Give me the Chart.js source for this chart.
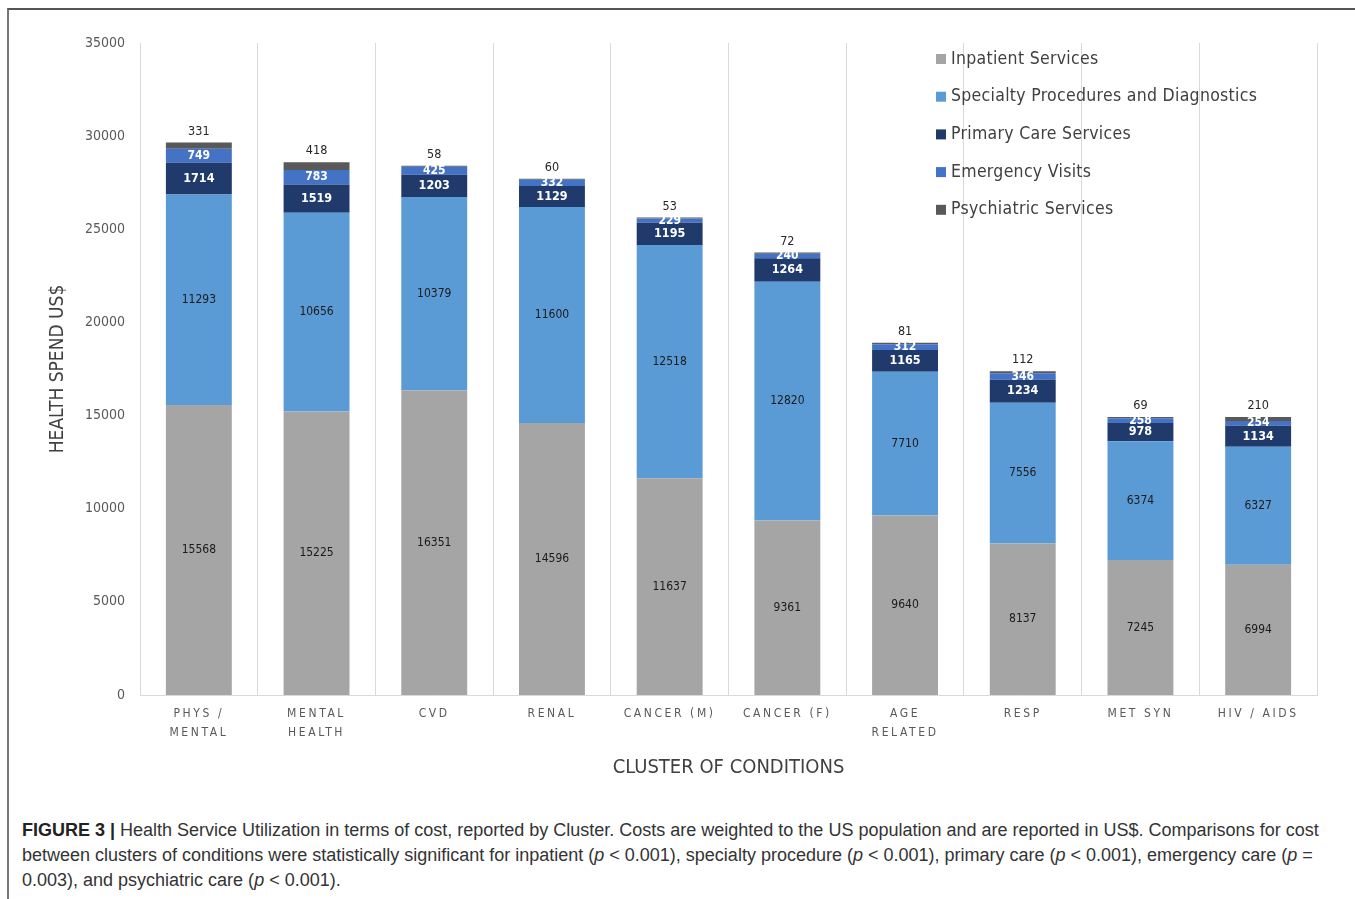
<!DOCTYPE html>
<html>
<head>
<meta charset="utf-8">
<script src="https://cdn.jsdelivr.net/npm/chart.js@4"></script>
<style>
  body { margin: 0; background: #fff; width: 1355px; height: 899px; overflow: hidden; position: relative; }
  #frame { position: absolute; left: 7px; top: 8px; width: 1348px; height: 891px; border-top: 2px solid #555; border-left: 2px solid #777; box-sizing: border-box; }
  #wrap { position: absolute; left: 9px; top: 10px; width: 1346px; height: 775px; }
  #caption { position: absolute; left: 22px; top: 818px; width: 1318px; font-family: "Liberation Sans", Arial, sans-serif; font-size: 18px; line-height: 25px; color: #333; }
  #caption b { color: #222; }
</style>
</head>
<body>
<div id="frame"></div>
<div id="wrap"><canvas id="healthChart"></canvas></div>
<div id="caption"><b>FIGURE 3 |</b> Health Service Utilization in terms of cost, reported by Cluster. Costs are weighted to the US population and are reported in US$. Comparisons for cost between clusters of conditions were statistically significant for inpatient (<i>p</i> &lt; 0.001), specialty procedure (<i>p</i> &lt; 0.001), primary care (<i>p</i> &lt; 0.001), emergency care (<i>p</i> = 0.003), and psychiatric care (<i>p</i> &lt; 0.001).</div>
<script>
const clusters = [
    ['PHYS /', 'MENTAL'], ['MENTAL', 'HEALTH'], 'CVD', 'RENAL', 'CANCER (M)',
    'CANCER (F)', ['AGE', 'RELATED'], 'RESP', 'MET SYN', 'HIV / AIDS'
];
const inpatient = [15568, 15225, 16351, 14596, 11637, 9361, 9640, 8137, 7245, 6994];
const specialty = [11293, 10656, 10379, 11600, 12518, 12820, 7710, 7556, 6374, 6327];
const primaryCare = [1714, 1519, 1203, 1129, 1195, 1264, 1165, 1234, 978, 1134];
const emergency = [749, 783, 425, 332, 229, 240, 312, 346, 258, 254];
const psychiatric = [331, 418, 58, 60, 53, 72, 81, 112, 69, 210];
const yTicks = [0, 5000, 10000, 15000, 20000, 25000, 30000, 35000];

// label style per dataset: where and how the value is written
const labelStyles = [
    { color: '#1a1a1a', font: '12px "DejaVu Sans Condensed", sans-serif', inside: true },
    { color: '#1a1a1a', font: '12px "DejaVu Sans Condensed", sans-serif', inside: true },
    { color: '#ffffff', font: 'bold 12.5px "DejaVu Sans Condensed", sans-serif', inside: true },
    { color: '#ffffff', font: 'bold 12px "DejaVu Sans Condensed", sans-serif', inside: true },
    { color: '#262626', font: '12.5px "DejaVu Sans Condensed", sans-serif', inside: false }
];

const valueLabels = {
    id: 'valueLabels',
    afterDatasetsDraw(chart) {
        const ctx = chart.ctx;
        chart.data.datasets.forEach((ds, i) => {
            const meta = chart.getDatasetMeta(i);
            const st = labelStyles[i];
            ctx.save();
            ctx.font = st.font;
            ctx.fillStyle = st.color;
            ctx.textAlign = 'center';
            ctx.textBaseline = 'middle';
            meta.data.forEach((bar, j) => {
                const p = bar.getProps(['x', 'y', 'base'], true);
                const y = st.inside ? (p.y + p.base) / 2 : p.y - 11;
                ctx.fillText(String(ds.data[j]), p.x, y);
            });
            ctx.restore();
        });
    }
};

const innerLegend = {
    id: 'innerLegend',
    afterDraw(chart) {
        const ctx = chart.ctx;
        const left = chart.chartArea.left + 796;
        const top = chart.chartArea.top + 16;
        ctx.save();
        ctx.font = '17.5px "DejaVu Sans Condensed", sans-serif';
        ctx.letterSpacing = '0.3px';
        ctx.textBaseline = 'middle';
        ctx.textAlign = 'left';
        chart.data.datasets.forEach((ds, i) => {
            const y = top + i * 37.7;
            ctx.fillStyle = ds.backgroundColor;
            ctx.fillRect(left, y - 5, 10, 10);
            ctx.fillStyle = '#404040';
            ctx.fillText(ds.label, left + 15, y);
        });
        ctx.restore();
    }
};

// spaced-out lettering on the category axis only
const spacedTicks = {
    id: 'spacedTicks',
    beforeDraw(chart) {
        const xs = chart.scales.x;
        if (xs && !xs._spaced) {
            const orig = xs.drawLabels;
            xs.drawLabels = function (area) {
                this.ctx.save();
                this.ctx.letterSpacing = '2.6px';
                orig.call(this, area);
                this.ctx.restore();
            };
            xs._spaced = true;
        }
    }
};

const datasets = [
    { label: 'Inpatient Services', data: inpatient, backgroundColor: '#a5a5a5' },
    { label: 'Specialty Procedures and Diagnostics', data: specialty, backgroundColor: '#5b9bd5' },
    { label: 'Primary Care Services', data: primaryCare, backgroundColor: '#1f3a6b' },
    { label: 'Emergency Visits', data: emergency, backgroundColor: '#4472c4' },
    { label: 'Psychiatric Services', data: psychiatric, backgroundColor: '#595959' }
].map(d => ({ ...d, barPercentage: 0.56, categoryPercentage: 1, borderWidth: 0 }));

const ctx = document.getElementById('healthChart').getContext('2d');
new Chart(ctx, {
    type: 'bar',
    data: { labels: clusters, datasets },
    options: {
        responsive: true,
        maintainAspectRatio: false,
        animation: false,
        layout: { padding: { top: 33, right: 38, left: 0, bottom: 0 } },
        plugins: { legend: { display: false }, tooltip: { enabled: false } },
        scales: {
            x: {
                stacked: true,
                grid: { color: '#d9d9d9', lineWidth: 1, drawTicks: false, offset: true },
                border: { display: true, color: '#d9d9d9' },
                ticks: {
                    color: '#595959',
                    font: { family: '"DejaVu Sans Condensed", sans-serif', size: 12, lineHeight: 1.6 },
                    padding: 9,
                    maxRotation: 0,
                    autoSkip: false
                },
                title: {
                    display: true,
                    text: 'CLUSTER OF CONDITIONS',
                    color: '#404040',
                    font: { family: '"DejaVu Sans Condensed", sans-serif', size: 20 },
                    padding: { top: 8, bottom: 5 }
                },
                afterFit(scale) { scale.height = 90; }
            },
            y: {
                stacked: true,
                min: 0,
                max: 35000,
                afterBuildTicks(scale) { scale.ticks = yTicks.map(v => ({ value: v })); },
                grid: { display: false, drawTicks: false },
                border: { display: false },
                ticks: {
                    color: '#595959',
                    font: { family: '"DejaVu Sans Condensed", sans-serif', size: 14 },
                    padding: 15,
                    callback: v => String(v)
                },
                title: {
                    display: true,
                    text: 'HEALTH SPEND US$',
                    color: '#404040',
                    font: { family: '"DejaVu Sans Condensed", sans-serif', size: 19 },
                    padding: { top: 38, bottom: 0 }
                },
                afterFit(scale) { scale.width = 131; }
            }
        }
    },
    plugins: [valueLabels, innerLegend, spacedTicks]
});
</script>
</body>
</html>
